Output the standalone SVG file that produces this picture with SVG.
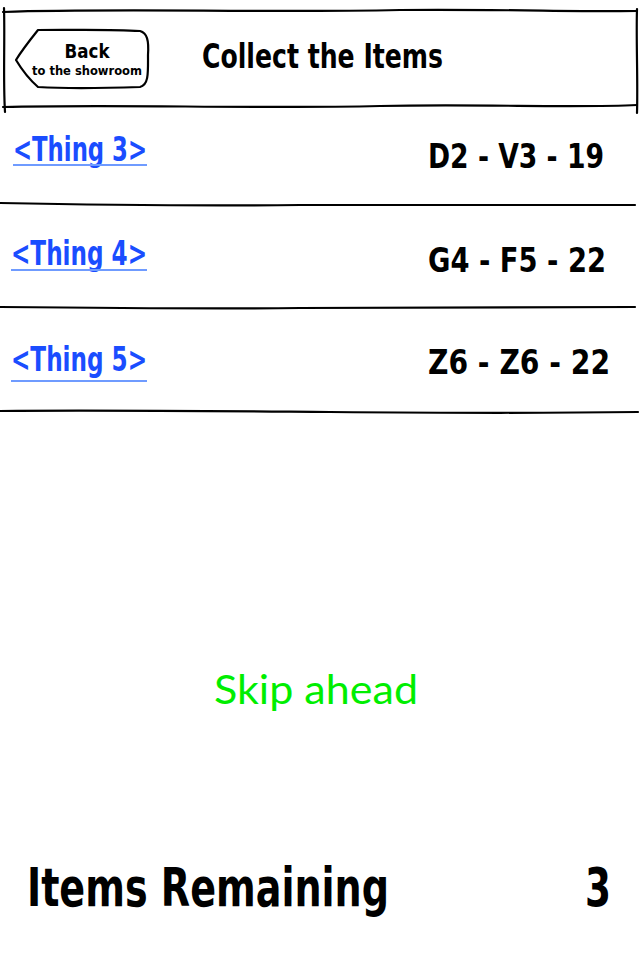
<svg xmlns="http://www.w3.org/2000/svg" width="640" height="960" viewBox="0 0 640 960">
<style>
.sk{fill:none;stroke:#000;stroke-width:2.2;stroke-linecap:round;stroke-linejoin:round}
.hand{font-family:"Liberation Sans Narrow","DejaVu Sans Condensed","Liberation Sans",sans-serif;font-weight:bold;fill:#000}
.link{fill:#1a4dff}
.ul{stroke:#6f9bff;stroke-width:2}
.skip{font-family:Lato,"Open Sans",sans-serif;fill:#00ee00;font-size:40px}
</style>
<rect width="640" height="960" fill="#fff"/>
<g id="header">
<path class="sk" d="M3,12 C120,8 260,13 400,10 C500,9 580,12 637,11"/>
<path class="sk" d="M3,107 C120,104 250,109 380,106 C480,104 580,108 637,105"/>
<path class="sk" d="M4,8 C5,40 3,80 5,112"/>
<path class="sk" d="M637,9 C636,40 638,80 637,113"/>
<text class="hand" x="202" y="68" font-size="34" textLength="241" lengthAdjust="spacingAndGlyphs">Collect the Items</text>
</g>
<g id="back-button">
<path class="sk" d="M38,30 C70,30 110,29 140,31 C147,33 149,40 148,55 C148,72 149,85 140,87 C110,88 70,89 38,87 C30,80 22,70 16,60 C22,50 30,40 38,30 Z"/>
<text class="hand" x="87" y="58" font-size="19" text-anchor="middle" textLength="45" lengthAdjust="spacingAndGlyphs">Back</text>
<text class="hand" x="87" y="75" font-size="13" font-weight="normal" text-anchor="middle" textLength="110" lengthAdjust="spacingAndGlyphs">to the showroom</text>
</g>
<g id="row1">
<text class="hand link" x="13" y="161" font-size="34" textLength="134" lengthAdjust="spacingAndGlyphs">&lt;Thing 3&gt;</text>
<line class="ul" x1="13" y1="165" x2="147" y2="165"/>
<text class="hand" x="428" y="168" font-size="34" textLength="176" lengthAdjust="spacingAndGlyphs">D2 - V3 - 19</text>
</g>
<g id="row2">
<text class="hand link" x="11" y="265" font-size="34" textLength="136" lengthAdjust="spacingAndGlyphs">&lt;Thing 4&gt;</text>
<line class="ul" x1="11" y1="270" x2="147" y2="270"/>
<text class="hand" x="428" y="272" font-size="34" textLength="178" lengthAdjust="spacingAndGlyphs">G4 - F5 - 22</text>
</g>
<g id="row3">
<text class="hand link" x="11" y="371" font-size="34" textLength="136" lengthAdjust="spacingAndGlyphs">&lt;Thing 5&gt;</text>
<line class="ul" x1="11" y1="381" x2="147" y2="381"/>
<text class="hand" x="428" y="374" font-size="34" textLength="182" lengthAdjust="spacingAndGlyphs">Z6 - Z6 - 22</text>
</g>
<g id="dividers">
<path class="sk" d="M0,203 C100,205 200,206 300,205 C420,204 540,205 635,205"/>
<path class="sk" d="M0,307 C100,308 200,309 300,308 C420,307 540,308 635,307"/>
<path class="sk" d="M0,411 C100,410 200,411 330,412 C450,413 560,413 638,412"/>
</g>
<g id="skip">
<text class="skip" x="316" y="704" text-anchor="middle" textLength="204" lengthAdjust="spacingAndGlyphs">Skip ahead</text>
</g>
<g id="footer">
<text class="hand" x="27" y="906" font-size="54" textLength="362" lengthAdjust="spacingAndGlyphs">Items Remaining</text>
<text class="hand" x="585" y="906" font-size="54" textLength="26" lengthAdjust="spacingAndGlyphs">3</text>
</g>
</svg>
